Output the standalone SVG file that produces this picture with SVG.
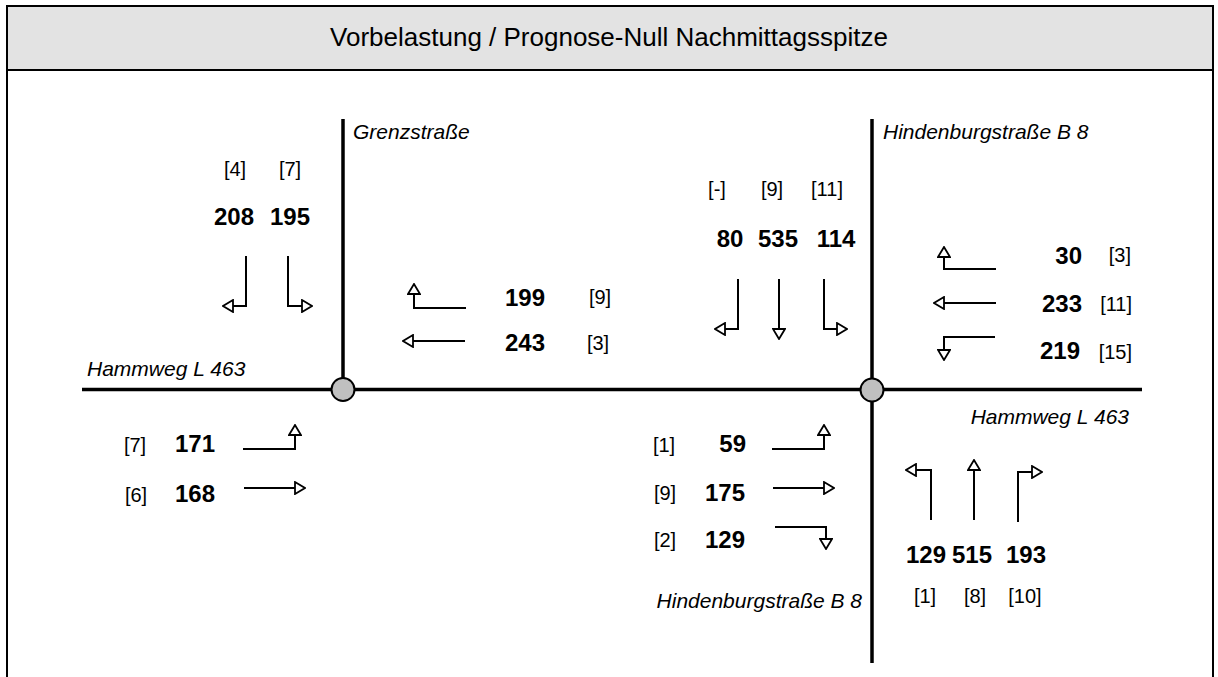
<svg xmlns="http://www.w3.org/2000/svg" width="1218" height="677" viewBox="0 0 1218 677">
<style>
.frame{fill:none;stroke:#000;stroke-width:2}
.road{fill:none;stroke:#000;stroke-width:3.5}
.knot{fill:#c0c0c0;stroke:#000;stroke-width:2}
.arr{fill:none;stroke:#000;stroke-width:2;marker-end:url(#head)}
.t{font-family:"Liberation Sans",Arial,sans-serif;fill:#000}
.title{font-size:26px;text-anchor:middle}
.st{font-size:21px;font-style:italic}
.lb{font-size:20px;text-anchor:middle}
.n{font-size:24px;font-weight:bold;text-anchor:middle}
.e{text-anchor:end}
</style>
<defs>
<marker id="head" viewBox="0 0 12 14" refX="1" refY="7" markerWidth="12" markerHeight="14" markerUnits="userSpaceOnUse" orient="auto">
<polygon points="1,1 11,7 1,13" fill="#fff" stroke="#000" stroke-width="1.8" stroke-linejoin="miter"/>
</marker>
</defs>
<rect width="1218" height="677" fill="#fff"/>
<g id="header">
<rect x="7" y="6" width="1206" height="64" fill="#e3e3e3"/>
<path class="frame" d="M7,677 V6 H1213 V677 M7,70 H1213"/>
<text class="t title" x="609" y="46">Vorbelastung / Prognose-Null Nachmittagsspitze</text>
</g>
<g id="connectors">
<path class="road" d="M82,389.5 H1142"/>
<path class="road" d="M343,119 V389"/>
<path class="road" d="M872,119 V663"/>
</g>
<g id="knot-grenzstrasse">
<circle class="knot" cx="343" cy="389.5" r="11.5"/>
</g>
<g id="knot-hindenburgstrasse">
<circle class="knot" cx="872" cy="390" r="11.5"/>
</g>
<g id="street-labels">
<text class="t st" x="353" y="139">Grenzstraße</text>
<text class="t st" x="883" y="139">Hindenburgstraße B 8</text>
<text class="t st" x="87" y="376">Hammweg L 463</text>
<text class="t st e" x="1129" y="424">Hammweg L 463</text>
<text class="t st e" x="862" y="608">Hindenburgstraße B 8</text>
</g>
<g id="k1-north">
<text class="t lb" x="235" y="176">[4]</text>
<text class="t lb" x="290" y="176">[7]</text>
<text class="t n" x="234" y="225">208</text>
<text class="t n" x="290" y="225">195</text>
<path class="arr" d="M246,256 V306 H233"/>
<path class="arr" d="M288,256 V306 H302"/>
</g>
<g id="k1-east">
<path class="arr" d="M466,308 H414 V294"/>
<path class="arr" d="M465,341 H413"/>
<text class="t n" x="525" y="306">199</text>
<text class="t n" x="525" y="351">243</text>
<text class="t lb" x="600" y="304">[9]</text>
<text class="t lb" x="598" y="350">[3]</text>
</g>
<g id="k1-west">
<text class="t lb" x="135" y="452">[7]</text>
<text class="t lb" x="136" y="502">[6]</text>
<text class="t n" x="195" y="452">171</text>
<text class="t n" x="195" y="502">168</text>
<path class="arr" d="M243,449 H295 V435"/>
<path class="arr" d="M244,488 H295"/>
</g>
<g id="k2-north">
<text class="t lb" x="717" y="196">[-]</text>
<text class="t lb" x="772" y="196">[9]</text>
<text class="t lb" x="827" y="196">[11]</text>
<text class="t n" x="730" y="247">80</text>
<text class="t n" x="778" y="247">535</text>
<text class="t n" x="836" y="247">114</text>
<path class="arr" d="M738,279 V329 H725"/>
<path class="arr" d="M779,279 V329"/>
<path class="arr" d="M824,279 V329 H837"/>
</g>
<g id="k2-east">
<path class="arr" d="M996,269 H944 V257"/>
<path class="arr" d="M996,303 H944"/>
<path class="arr" d="M995,337 H944 V350"/>
<text class="t n e" x="1082" y="264">30</text>
<text class="t n e" x="1082" y="312">233</text>
<text class="t n e" x="1080" y="359">219</text>
<text class="t lb e" x="1131" y="262">[3]</text>
<text class="t lb e" x="1132" y="311">[11]</text>
<text class="t lb e" x="1132" y="359">[15]</text>
</g>
<g id="k2-west">
<text class="t lb" x="664" y="452">[1]</text>
<text class="t lb" x="665" y="500">[9]</text>
<text class="t lb" x="665" y="547">[2]</text>
<text class="t n e" x="746" y="452">59</text>
<text class="t n e" x="745" y="501">175</text>
<text class="t n e" x="745" y="548">129</text>
<path class="arr" d="M772,449 H824 V435"/>
<path class="arr" d="M773,488 H824"/>
<path class="arr" d="M775,527 H826 V539"/>
</g>
<g id="k2-south">
<path class="arr" d="M931,520 V470 H916"/>
<path class="arr" d="M974,520 V470"/>
<path class="arr" d="M1018,522 V472 H1032"/>
<text class="t n" x="926" y="563">129</text>
<text class="t n" x="972" y="563">515</text>
<text class="t n" x="1026" y="563">193</text>
<text class="t lb" x="925" y="603">[1]</text>
<text class="t lb" x="975" y="603">[8]</text>
<text class="t lb" x="1025" y="603">[10]</text>
</g>
</svg>
